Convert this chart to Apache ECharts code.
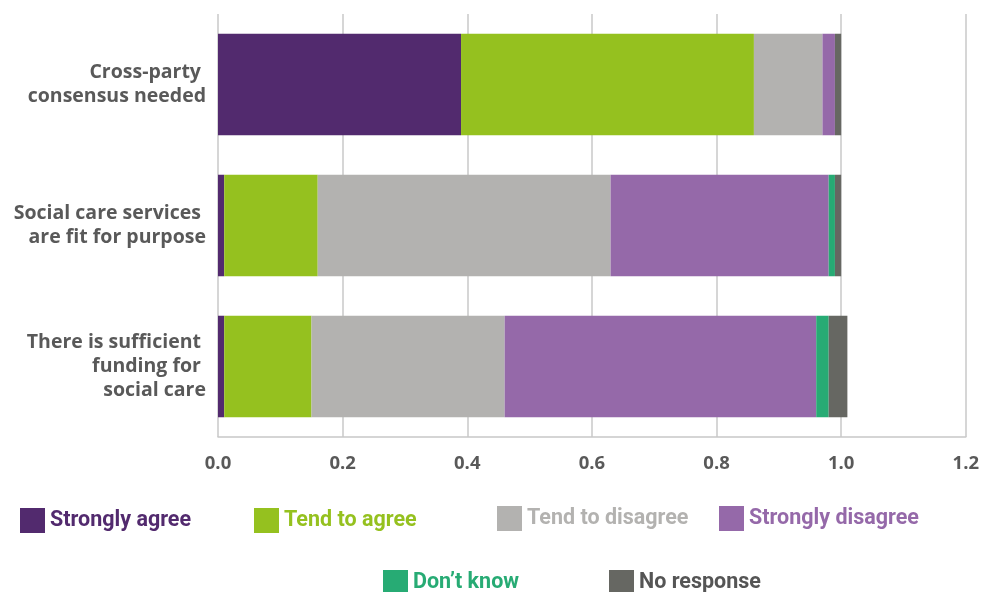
<!DOCTYPE html>
<html>
<head>
<meta charset="utf-8">
<script src="https://cdn.jsdelivr.net/npm/echarts@6/dist/echarts.min.js"></script>
<style>
  html, body { margin: 0; padding: 0; background: #fff; }
  #chart { width: 982px; height: 592px; }
</style>
</head>
<body>
<div id="chart"></div>
<script>
// Survey statements (top to bottom)
const categories = [
  'Cross-party \nconsensus needed',
  'Social care services \nare fit for purpose',
  'There is sufficient \nfunding for \nsocial care'
];

// Share of respondents per answer, one value per statement
const stronglyAgree    = [0.39, 0.01, 0.01];
const tendToAgree      = [0.47, 0.15, 0.14];
const tendToDisagree   = [0.11, 0.47, 0.31];
const stronglyDisagree = [0.02, 0.35, 0.50];
const dontKnow         = [0.00, 0.01, 0.02];
const noResponse       = [0.01, 0.01, 0.03];

const xTicks = [0, 0.2, 0.4, 0.6, 0.8, 1.0, 1.2];

const seriesDefs = [
  { name: 'Strongly agree',    data: stronglyAgree,    color: '#522A6E', text: '#522A6E', left: 20,  top: 508 },
  { name: 'Tend to agree',     data: tendToAgree,      color: '#95C11F', text: '#95C11F', left: 254, top: 508 },
  { name: 'Tend to disagree',  data: tendToDisagree,   color: '#B3B2B0', text: '#B3B2B0', left: 497, top: 506 },
  { name: 'Strongly disagree', data: stronglyDisagree, color: '#9569A9', text: '#9569A9', left: 719, top: 506 },
  { name: 'Don\u2019t know',   data: dontKnow,         color: '#27AB74', text: '#27AB74', left: 383, top: 570 },
  { name: 'No response',       data: noResponse,       color: '#666762', text: '#555555', left: 609, top: 570 }
];

const FONT = 'Roboto';
const LABEL_FONT = 'Open Sans';

const chart = echarts.init(document.getElementById('chart'), null, { renderer: 'canvas' });

chart.setOption({
  animation: false,
  backgroundColor: '#ffffff',
  grid: { left: 218, right: 13, top: 14, bottom: 155, containLabel: false },
  xAxis: {
    type: 'value',
    min: 0,
    max: xTicks[xTicks.length - 1],
    interval: 0.2,
    axisLine: { show: true, lineStyle: { color: '#C8C8C8', width: 1.5 } },
    axisTick: { show: false },
    splitLine: { show: true, lineStyle: { color: '#C8C8C8', width: 1.5 } },
    axisLabel: {
      margin: 17,
      color: '#595959',
      fontFamily: LABEL_FONT,
      fontWeight: 'bold',
      fontSize: 18.5,
      formatter: v => v.toFixed(1)
    }
  },
  yAxis: {
    type: 'category',
    inverse: true,
    data: categories,
    axisLine: { show: false },
    axisTick: { show: false },
    splitLine: { show: false },
    axisLabel: {
      margin: 12,
      color: '#595959',
      fontFamily: LABEL_FONT,
      fontWeight: 'bold',
      fontSize: 19.5,
      lineHeight: 24,
      align: 'right'
    }
  },
  legend: seriesDefs.map(s => ({
    data: [s.name],
    left: s.left,
    top: s.top,
    itemWidth: 25,
    itemHeight: 25,
    itemGap: 0,
    padding: 0,
    icon: 'rect',
    selectedMode: false,
    textStyle: {
      color: s.text,
      fontFamily: FONT,
      fontWeight: 'bold',
      fontSize: 21.5,
      padding: [4, 0, 0, 0]
    }
  })),
  series: seriesDefs.map(s => ({
    name: s.name,
    type: 'bar',
    stack: 'total',
    barWidth: '72%',
    data: s.data,
    itemStyle: { color: s.color },
    emphasis: { disabled: true }
  }))
});
</script>
</body>
</html>
